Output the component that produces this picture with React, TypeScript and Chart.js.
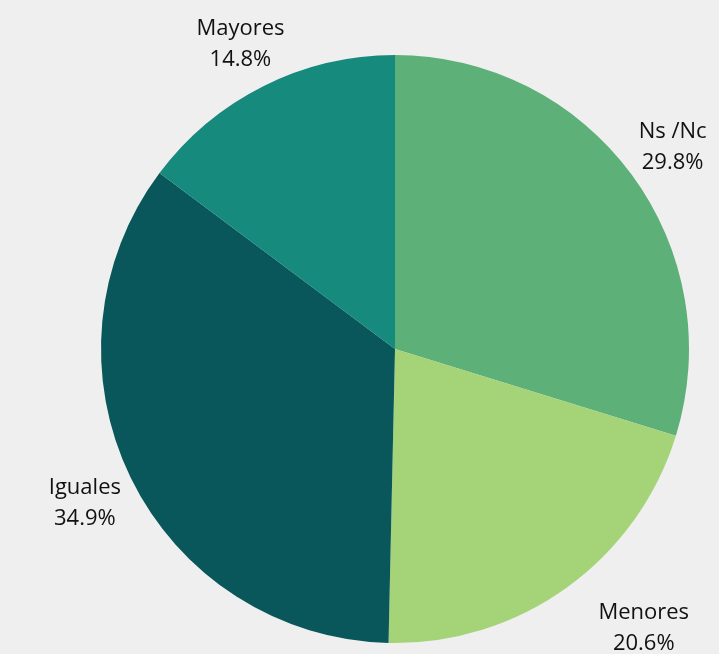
import React, { useEffect, useRef } from "react";
import { Chart, registerables } from "chart.js";

Chart.register(...registerables);

const categories: string[] = ["Ns /Nc", "Menores", "Iguales", "Mayores"];
const values: number[] = [29.8, 20.6, 34.9, 14.8];
const colors: string[] = ["#5db077", "#a5d478", "#09575b", "#178a7e"];

const labelPlugin = {
  id: "outerLabels",
  afterDatasetsDraw(chart: any) {
    const ctx = chart.ctx;
    const meta = chart.getDatasetMeta(0);
    ctx.save();
    ctx.font = "22px 'Open Sans', 'Noto Sans', sans-serif";
    ctx.fillStyle = "#111111";
    ctx.textAlign = "center";
    ctx.textBaseline = "middle";
    meta.data.forEach((arc: any, i: number) => {
      const mid = (arc.startAngle + arc.endAngle) / 2;
      const r = arc.outerRadius + 51;
      let x = arc.x + Math.cos(mid) * r;
      let y = arc.y + Math.sin(mid) * r + 3;
      if (i === 1) { x += 47; y -= 4; }
      ctx.fillText(categories[i], x, y - 15);
      ctx.fillText(values[i].toFixed(1) + "%", x, y + 16);
    });
    ctx.restore();
  },
};

export default function App() {
  const ref = useRef<HTMLCanvasElement | null>(null);
  useEffect(() => {
    document.body.style.margin = "0";
    document.body.style.background = "#efefef";
    const chart = new Chart(ref.current as HTMLCanvasElement, {
      type: "pie",
      data: {
        labels: categories,
        datasets: [
          {
            data: values,
            backgroundColor: colors,
            borderWidth: 0,
          },
        ],
      },
      options: {
        animation: false,
        responsive: false,
        layout: { padding: { left: 101, right: 30, top: 55, bottom: 11 } },
        plugins: { legend: { display: false }, tooltip: { enabled: false } },
      },
      plugins: [labelPlugin],
    });
    return () => chart.destroy();
  }, []);
  return (
    <div style={{ width: 719, height: 654, background: "#efefef" }}>
      <canvas ref={ref} width={719} height={654} style={{ display: "block" }} />
    </div>
  );
}
